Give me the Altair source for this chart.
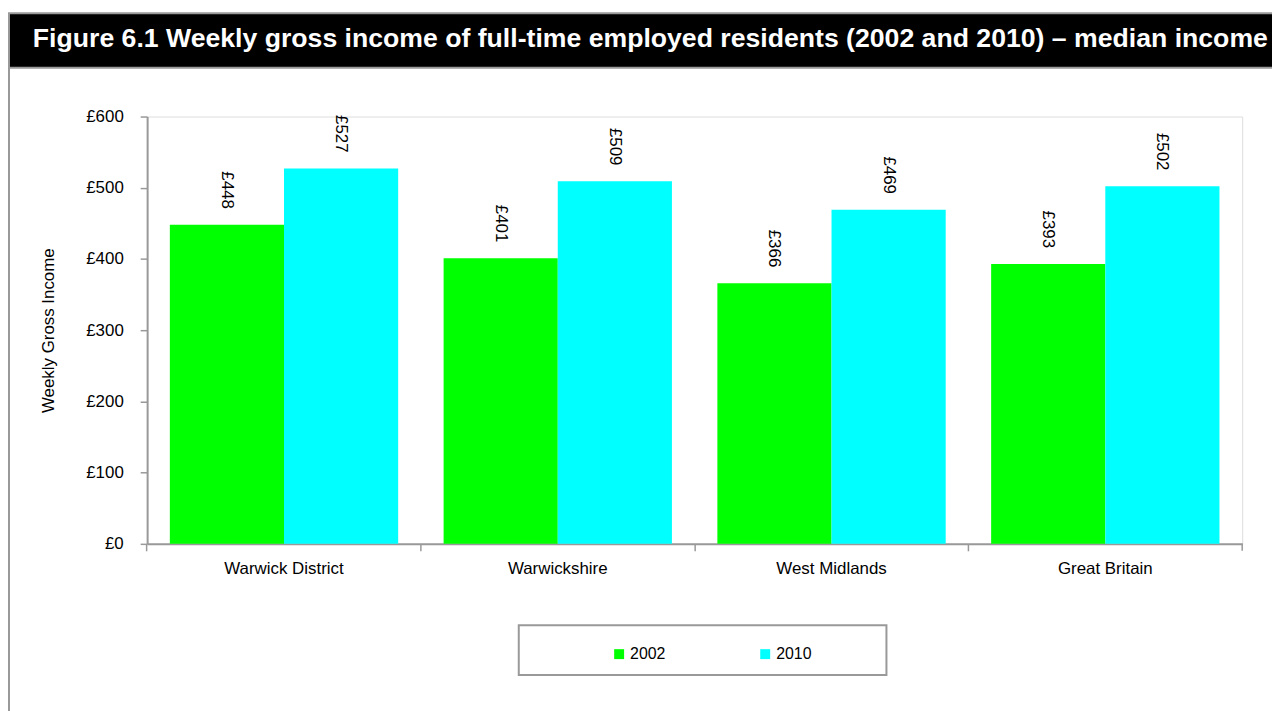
import altair as alt
import pandas as pd

# ---- data ----
regions = ["Warwick District", "Warwickshire", "West Midlands", "Great Britain"]
years = ["2002", "2010"]
income_2002 = [448, 401, 366, 393]
income_2010 = [527, 509, 469, 502]
year_colors = ["#00FF00", "#00FFFF"]
y_ticks = [0, 100, 200, 300, 400, 500, 600]
title_text = ("Figure 6.1 Weekly gross income of full-time employed residents "
              "(2002 and 2010) \u2013 median income")
y_title = "Weekly Gross Income"

rows = []
for i, r in enumerate(regions):
    rows.append({"region": r, "year": years[0], "value": income_2002[i]})
    rows.append({"region": r, "year": years[1], "value": income_2010[i]})
df = pd.DataFrame(rows)

FONT = "Liberation Sans"
GRAY = "#999999"
W, H = 1102, 430
P_IN = 0.166

x_enc = alt.X(
    "region:N", sort=regions, title=None,
    scale=alt.Scale(paddingInner=P_IN, paddingOuter=P_IN / 2),
    axis=alt.Axis(labelAngle=0, labelFontSize=17, labelColor="black", labelPadding=10,
                  tickSize=7, tickColor=GRAY, tickWidth=1.5, domainColor=GRAY, domainWidth=2,
                  bandPosition=-(P_IN / 2) / (1 - P_IN), labelFont=FONT),
)
xo_enc = alt.XOffset("year:N", sort=years, scale=alt.Scale(paddingInner=0, paddingOuter=0))
y_enc = alt.Y(
    "value:Q", scale=alt.Scale(domain=[0, 600]), title=y_title,
    axis=alt.Axis(values=y_ticks, labelExpr="'\u00a3' + datum.value", grid=False,
                  labelFontSize=17, labelColor="black", labelPadding=17, labelFont=FONT,
                  tickSize=7, tickColor=GRAY, tickWidth=1.5, domainColor=GRAY, domainWidth=2,
                  titleFontSize=17, titleFontWeight="normal", titleColor="black",
                  titleFont=FONT, titlePadding=28),
)
color_enc = alt.Color(
    "year:N", scale=alt.Scale(domain=years, range=year_colors),
    legend=alt.Legend(orient="none", legendX=467, legendY=533, direction="horizontal",
                      title=None, labelFontSize=16, labelFont=FONT, labelColor="black",
                      symbolType="square", symbolSize=100, symbolStrokeWidth=0,
                      columnPadding=92, labelOffset=3, padding=0),
)

base = alt.Chart(df)
bars = base.mark_bar().encode(x=x_enc, xOffset=xo_enc, y=y_enc, color=color_enc)
labels = base.transform_calculate(lbl="'\u00a3' + datum.value").mark_text(
    angle=90, align="right", baseline="middle", dx=-16, fontSize=17, font=FONT, color="black"
).encode(x=x_enc, xOffset=xo_enc, y=y_enc, text="lbl:N")

one = alt.Data(values=[{"k": 1}])
title_bar = alt.Chart(one).mark_rect(fill="black", stroke=GRAY, strokeWidth=2).encode(
    x=alt.value(-139), x2=alt.value(1145), y=alt.value(-104), y2=alt.value(-49))
title_txt = alt.Chart(one).mark_text(
    text=title_text, align="left", baseline="alphabetic", fontSize=26.8, fontWeight="bold",
    font=FONT, color="white").encode(x=alt.value(-115), y=alt.value(-70))
frame_left = alt.Chart(one).mark_rule(color=GRAY, strokeWidth=2).encode(
    x=alt.value(-139), y=alt.value(-49), y2=alt.value(600))
legend_box = alt.Chart(one).mark_rect(fill="transparent", stroke=GRAY, strokeWidth=2).encode(
    x=alt.value(374), x2=alt.value(744), y=alt.value(512), y2=alt.value(562))
end_tick = alt.Chart(one).mark_rule(color=GRAY, strokeWidth=1.5).encode(
    x=alt.value(W), y=alt.value(H), y2=alt.value(H + 7))

chart = alt.layer(title_bar, title_txt, frame_left, legend_box, bars, labels, end_tick).properties(
    width=W, height=H,
    autosize=alt.AutoSizeParams(type="none"),
    padding={"left": 140, "top": 107, "right": 30, "bottom": 166},
    background="white",
).configure_view(stroke=None).configure(font=FONT)

chart.save("out.html", embed_options={"renderer": "svg", "actions": False})
